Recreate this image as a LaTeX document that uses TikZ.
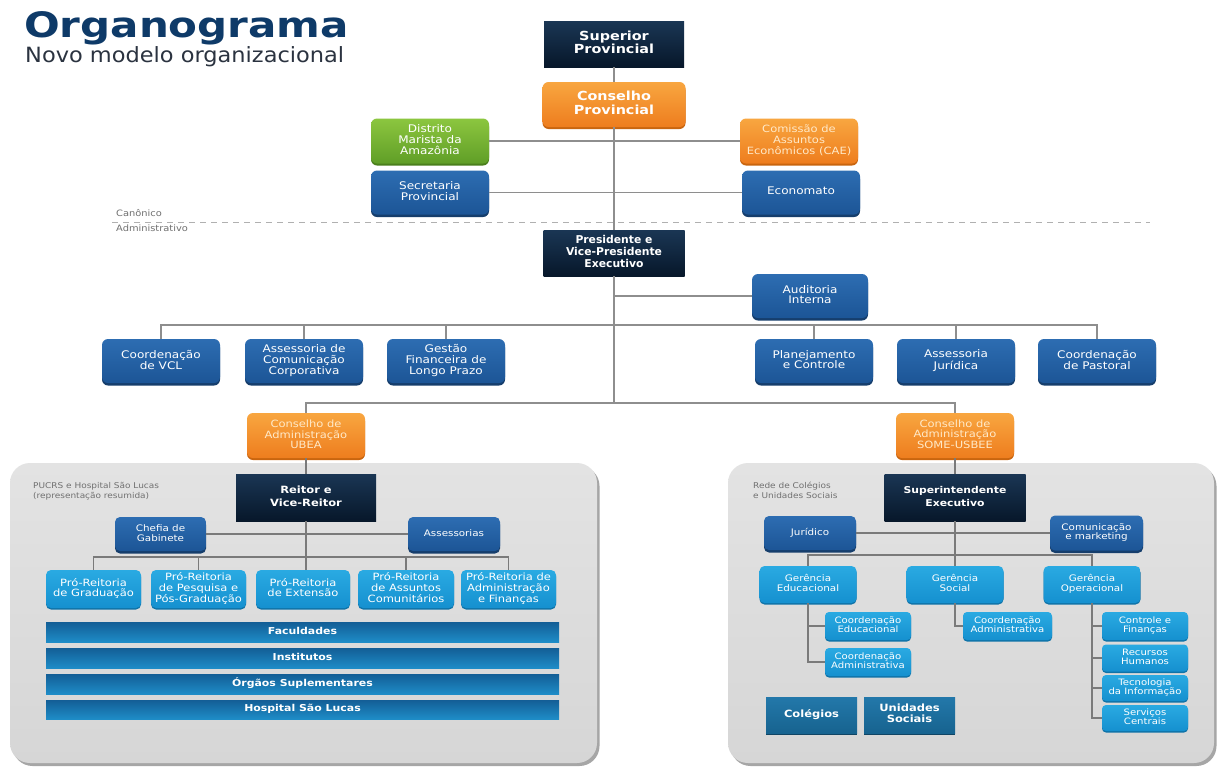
\documentclass[tikz,border=0pt]{standalone}
\usepackage{fontspec}
\setmainfont{DejaVu Sans}
\usepackage{graphicx}
\usetikzlibrary{shadows}

\definecolor{ttl}{HTML}{0E3A68}
\definecolor{subt}{HTML}{2B3340}
\definecolor{conn}{HTML}{8E8E8E}
\definecolor{connp}{HTML}{7A7A7A}
\definecolor{dashc}{HTML}{B0B0B0}
\definecolor{lbl}{HTML}{707070}
\definecolor{navyT}{HTML}{1A3654}
\definecolor{navyB}{HTML}{07172A}
\definecolor{orT}{HTML}{F8A640}
\definecolor{orB}{HTML}{EE7D1E}
\definecolor{orR}{HTML}{C9650F}
\definecolor{cream}{HTML}{FFE9C8}
\definecolor{grT}{HTML}{8CC63F}
\definecolor{grB}{HTML}{5F9E27}
\definecolor{grR}{HTML}{4A7F1C}
\definecolor{blT}{HTML}{2D6DB2}
\definecolor{blB}{HTML}{1C5596}
\definecolor{blR}{HTML}{163E6C}
\definecolor{cyT}{HTML}{2AAAE2}
\definecolor{cyB}{HTML}{1590CF}
\definecolor{cyR}{HTML}{0F73A8}
\definecolor{brT}{HTML}{135E96}
\definecolor{brB}{HTML}{1E8CC7}
\definecolor{coT}{HTML}{2378AA}
\definecolor{coB}{HTML}{17638F}
\definecolor{panT}{HTML}{E3E3E3}
\definecolor{panB}{HTML}{D6D6D6}

% horizontally widened, centred multi-line text
\newcommand{\hs}[1]{\scalebox{1.15}[1]{\begin{tabular}{@{}c@{}}#1\end{tabular}}}
\newcommand{\hsl}[1]{\scalebox{1.12}[1]{\begin{tabular}{@{}l@{}}#1\end{tabular}}}
\newcommand{\ct}[1]{\begin{tabular}{@{}c@{}}#1\end{tabular}}
\newcommand{\fs}[2]{\fontsize{#1}{#2}\selectfont}

\tikzset{
  wh/.style 2 args={minimum width=#1pt, minimum height=#2pt},
  base/.style={inner sep=0pt, align=center, text=white},
  navy/.style={base, top color=navyT, bottom color=navyB},
  orange/.style={base, rounded corners=6pt, top color=orT, bottom color=orB,
    general shadow={fill=orR, shadow yshift=-2pt}},
  green/.style={base, rounded corners=6pt, top color=grT, bottom color=grB,
    general shadow={fill=grR, shadow yshift=-2pt}},
  blue/.style={base, rounded corners=6pt, top color=blT, bottom color=blB,
    general shadow={fill=blR, shadow yshift=-2.5pt}},
  cyan/.style={base, rounded corners=5pt, top color=cyT, bottom color=cyB,
    general shadow={fill=cyR, shadow yshift=-1.5pt}},
  bar/.style={base, top color=brT, bottom color=brB, font=\fs{9.5}{9.5}\bfseries},
  unit/.style={base, top color=coT, bottom color=coB, font=\fs{10}{10.5}\bfseries,
    general shadow={fill=coB!70!black, shadow yshift=-1.5pt}},
  panel/.style={rounded corners=20pt, top color=panT, bottom color=panB,
    drop shadow={shadow xshift=2.5pt, shadow yshift=-3pt, fill=black, opacity=.35}},
  conn/.style={draw=conn, line width=1.3pt},
  connp/.style={draw=connp, line width=1.2pt},
  small/.style={text=lbl, inner sep=0pt},
}

\begin{document}
\begin{tikzpicture}[x=1pt, y=-1pt]
\useasboundingbox (0,0) rectangle (1226,766);
\fill[white] (0,0) rectangle (1226,766);

% heading
\node[anchor=base west, text=ttl, inner sep=0pt] (title) at (24,37)
  {\scalebox{1.2}[1]{\fs{35}{35}\bfseries Organograma}};
\node[anchor=base west, text=subt, inner sep=0pt] (subtitle) at (25,62)
  {\scalebox{1.07}[1]{\fs{21}{21}Novo modelo organizacional}};

% canonical level
\node[navy, wh={140}{46}, font=\fs{12.5}{12.5}\bfseries] (sup) at (614,44) {\hs{Superior\\Provincial}};
\node[orange, wh={143}{45}, font=\fs{12.5}{12.5}\bfseries] (cp) at (614,104.5) {\hs{Conselho\\Provincial}};
\node[green, wh={118}{45}, font=\fs{10.5}{10}] (dma) at (430,141) {\hs{Distrito\\Marista da\\Amazônia}};
\node[orange, wh={118}{45}, font=\fs{10}{10}, text=cream] (cae) at (799,141) {\hs{Comissão de\\Assuntos\\Econômicos (CAE)}};
\node[blue, wh={118}{44}, font=\fs{10.5}{10}] (sec) at (430,192.5) {\hs{Secretaria\\Provincial}};
\node[blue, wh={118}{44}, font=\fs{10.5}{10}] (eco) at (801,192.5) {\hs{Economato}};

% canonical / administrative divider
\coordinate (dl) at (112,222);
\coordinate (dr) at (1150,222);
\draw[dashc, line width=1pt, dash pattern=on 6pt off 5pt] (dl) -- (dr);
\node[small, anchor=west, font=\fs{8.8}{9}] (can) at (116,214.5) {\hsl{Canônico}};
\node[small, anchor=west, font=\fs{8.8}{9}] (adm) at (116,230) {\hsl{Administrativo}};

% executive level
\node[navy, wh={141}{46}, font=\fs{10.8}{11.5}\bfseries] (pres) at (614,253) {\ct{Presidente e\\Vice-Presidente\\Executivo}};
\node[blue, wh={116}{44}, font=\fs{10.5}{10}] (aud) at (810,296) {\hs{Auditoria\\Interna}};

\node[blue, wh={118}{44}, font=\fs{10.5}{10}] (vcl) at (161,361) {\hs{Coordenação\\de VCL}};
\node[blue, wh={118}{44}, font=\fs{10.5}{10}] (acc) at (304,361) {\hs{Assessoria de\\Comunicação\\Corporativa}};
\node[blue, wh={118}{44}, font=\fs{10.5}{10}] (gfl) at (446,361) {\hs{Gestão\\Financeira de\\Longo Prazo}};
\node[blue, wh={118}{44}, font=\fs{10.5}{10}] (plc) at (814,361) {\hs{Planejamento\\e Controle}};
\node[blue, wh={118}{44}, font=\fs{10.5}{10}] (aju) at (956,361) {\hs{Assessoria\\Jurídica}};
\node[blue, wh={118}{44}, font=\fs{10.5}{10}] (pas) at (1097,361) {\hs{Coordenação\\de Pastoral}};

\node[orange, wh={118}{45}, font=\fs{10}{10}, text=cream] (ubea) at (306,435.5) {\hs{Conselho de\\Administração\\UBEA}};
\node[orange, wh={118}{45}, font=\fs{10}{10}, text=cream] (some) at (955,435.5) {\hs{Conselho de\\Administração\\SOME-USBEE}};

% panels
\node[panel, wh={587}{300}] (pl) at (303.5,613) {};
\node[panel, wh={486}{300}] (pr) at (971,613) {};

% university panel
\node[small, anchor=north west, font=\fs{8}{10}] (lbl1) at (33,481) {\hsl{PUCRS e Hospital São Lucas\\(representação resumida)}};
\node[navy, wh={140}{47}, font=\fs{10}{13}\bfseries] (rei) at (306,497.5) {\hs{Reitor e\\Vice-Reitor}};
\node[blue, rounded corners=5pt, wh={91}{34}, font=\fs{9}{10}] (chf) at (160.5,534) {\hs{Chefia de\\Gabinete}};
\node[blue, rounded corners=5pt, wh={92}{34}, font=\fs{9}{10}] (asr) at (454,534) {\hs{Assessorias}};
\node[cyan, wh={95}{38}, font=\fs{10}{9.8}] (pr1) at (93.5,589) {\hs{Pró-Reitoria\\de Graduação}};
\node[cyan, wh={95}{38}, font=\fs{10}{9.8}] (pr2) at (198.5,589) {\hs{Pró-Reitoria\\de Pesquisa e\\Pós-Graduação}};
\node[cyan, wh={94}{38}, font=\fs{10}{9.8}] (pr3) at (303,589) {\hs{Pró-Reitoria\\de Extensão}};
\node[cyan, wh={96}{38}, font=\fs{10}{9.8}] (pr4) at (406,589) {\hs{Pró-Reitoria\\de Assuntos\\Comunitários}};
\node[cyan, wh={95}{38}, font=\fs{10}{9.8}] (pr5) at (508.5,589) {\hs{Pró-Reitoria de\\Administração\\e Finanças}};
\node[bar, wh={513}{20}] (fac) at (302.5,632) {\hs{Faculdades}};
\node[bar, wh={513}{20}] (ins) at (302.5,658) {\hs{Institutos}};
\node[bar, wh={513}{20}] (org) at (302.5,684) {\hs{Órgãos Suplementares}};
\node[bar, wh={513}{19}] (hsl) at (302.5,709.5) {\hs{Hospital São Lucas}};

% schools panel
\node[small, anchor=north west, font=\fs{8}{10}] (lbl2) at (753,481) {\hsl{Rede de Colégios\\e Unidades Sociais}};
\node[navy, wh={141}{47}, font=\fs{9.4}{13}\bfseries] (sup2) at (955,497.5) {\hs{Superintendente\\Executivo}};
\node[blue, rounded corners=5pt, wh={92}{34}, font=\fs{9}{10}] (jur) at (810,533) {\hs{Jurídico}};
\node[blue, rounded corners=5pt, wh={93}{35}, font=\fs{9}{9.5}] (com) at (1096.5,533) {\hs{Comunicação\\e marketing}};
\node[cyan, wh={97}{37}, font=\fs{9}{9.5}] (ge) at (808,584.5) {\hs{Gerência\\Educacional}};
\node[cyan, wh={97}{37}, font=\fs{9}{9.5}] (gs) at (955,584.5) {\hs{Gerência\\Social}};
\node[cyan, wh={97}{37}, font=\fs{9}{9.5}] (go) at (1092,584.5) {\hs{Gerência\\Operacional}};
\node[cyan, rounded corners=4pt, wh={86}{28}, font=\fs{8.8}{9}] (ced) at (868,626) {\hs{Coordenação\\Educacional}};
\node[cyan, rounded corners=4pt, wh={86}{28}, font=\fs{8.8}{9}] (cad) at (868,662) {\hs{Coordenação\\Administrativa}};
\node[cyan, rounded corners=4pt, wh={89}{28}, font=\fs{8.8}{9}] (cas) at (1007.5,626) {\hs{Coordenação\\Administrativa}};
\node[cyan, rounded corners=4pt, wh={86}{28}, font=\fs{8.8}{9}] (cf) at (1145,626) {\hs{Controle e\\Finanças}};
\node[cyan, rounded corners=4pt, wh={86}{27}, font=\fs{8.8}{9}] (rh) at (1145,658) {\hs{Recursos\\Humanos}};
\node[cyan, rounded corners=4pt, wh={86}{26}, font=\fs{8.8}{9}] (ti) at (1145,688) {\hs{Tecnologia\\da Informação}};
\node[cyan, rounded corners=4pt, wh={86}{26}, font=\fs{8.8}{9}] (sc) at (1145,718) {\hs{Serviços\\Centrais}};
\node[unit, wh={91}{36}] (col) at (811.5,715) {\hs{Colégios}};
\node[unit, wh={91}{36}] (uns) at (909.5,715) {\hs{Unidades\\Sociais}};

% connectors: canonical level
\draw[conn] (sup) -- (cp);
\draw[conn] (cp) -- (pres);
\draw[conn] (dma.east) -- (cae.west);
\draw[conn] (sec.east) -- (eco.west);

% connectors: executive level
\coordinate (rb) at (614,325);
\coordinate (cb) at (614,403);
\draw[conn] (pres.south) -- (cb);
\draw[conn] (aud.west) -- (aud.west -| pres.south);
\draw[conn] (vcl.north) -- (vcl.north |- rb) -- (pas.north |- rb) -- (pas.north);
\foreach \n in {acc,gfl,plc,aju} \draw[conn] (\n.north) -- (\n.north |- rb);
\draw[conn] (ubea.north) -- (ubea.north |- cb) -- (some.north |- cb) -- (some.north);

% connectors: university panel
\coordinate (pb) at (306,557);
\draw[connp] (ubea) -- (rei);
\draw[connp] (rei.south) -- (rei.south |- pr3.north);
\draw[connp] (chf.east) -- (asr.west);
\draw[connp] (pr1.north) -- (pr1.north |- pb) -- (pr5.north |- pb) -- (pr5.north);
\foreach \n in {pr2,pr4} \draw[connp] (\n.north) -- (\n.north |- pb);

% connectors: schools panel
\coordinate (gb) at (955,555);
\draw[connp] (some) -- (sup2);
\draw[connp] (sup2) -- (gs);
\draw[connp] (jur.east) -- (com.west);
\draw[connp] (ge.north) -- (ge.north |- gb) -- (go.north |- gb) -- (go.north);
\draw[connp] (ge.south) |- (cad.west);
\draw[connp] (ge.south |- ced.west) -- (ced.west);
\draw[connp] (gs.south) |- (cas.west);
\draw[connp] (go.south) |- (sc.west);
\foreach \n in {cf,rh,ti} \draw[connp] (go.south |- \n.west) -- (\n.west);
\end{tikzpicture}
\end{document}
